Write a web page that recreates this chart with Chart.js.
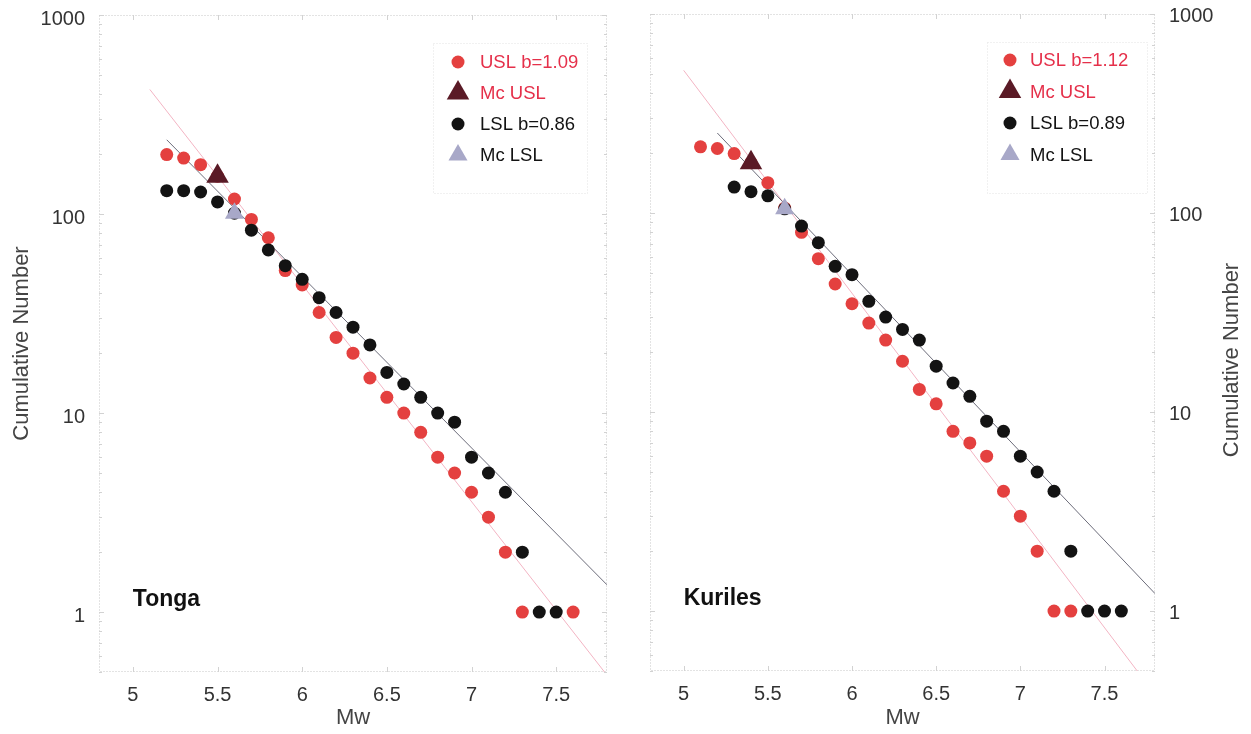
<!DOCTYPE html>
<html>
<head>
<meta charset="utf-8">
<script src="https://cdn.jsdelivr.net/npm/chart.js@4/dist/chart.umd.min.js"></script>
<style>
  html, body { margin: 0; padding: 0; background: #ffffff; }
  #wrap { position: relative; width: 1251px; height: 734px; overflow: hidden; }
  canvas { position: absolute; top: 0; }
  #tonga { left: 0; }
  #kuriles { left: 625px; }
</style>
</head>
<body>
<div id="wrap">
  <canvas id="tonga" width="625" height="734"></canvas>
  <canvas id="kuriles" width="626" height="734"></canvas>
</div>
<script>
// ---- Tonga: cumulative number of events vs. magnitude ----
const tongaUslMw = [5.2, 5.3, 5.4, 5.5, 5.6, 5.7, 5.8, 5.9, 6.0, 6.1, 6.2, 6.3, 6.4, 6.5, 6.6, 6.7, 6.8, 6.9, 7.0, 7.1, 7.2, 7.3, 7.6];
const tongaUslN  = [199, 191, 177, 155, 119, 94, 76, 52, 44, 32, 24, 20, 15, 12, 10, 8, 6, 5, 4, 3, 2, 1, 1];
const tongaLslMw = [5.2, 5.3, 5.4, 5.5, 5.6, 5.7, 5.8, 5.9, 6.0, 6.1, 6.2, 6.3, 6.4, 6.5, 6.6, 6.7, 6.8, 6.9, 7.0, 7.1, 7.2, 7.3, 7.4, 7.5];
const tongaLslN  = [131, 131, 129, 115, 101, 83, 66, 55, 47, 38, 32, 27, 22, 16, 14, 12, 10, 9, 6, 5, 4, 2, 1, 1];
const tongaMc    = [5.5, 5.6];          // completeness magnitude: USL, LSL
const tongaB     = [1.09, 0.86];        // Gutenberg-Richter b-values: USL, LSL
const tongaA     = [8.185, 6.845];      // a-values of the fits: USL, LSL
const tongaFitMw = [[5.1, 7.79], [5.2, 7.8]];

// ---- Kuriles ----
const kurilesUslMw = [5.1, 5.2, 5.3, 5.4, 5.5, 5.6, 5.7, 5.8, 5.9, 6.0, 6.1, 6.2, 6.3, 6.4, 6.5, 6.6, 6.7, 6.8, 6.9, 7.0, 7.1, 7.2, 7.3];
const kurilesUslN  = [215, 211, 199, 179, 142, 106, 80, 59, 44, 35, 28, 23, 18, 13, 11, 8, 7, 6, 4, 3, 2, 1, 1];
const kurilesLslMw = [5.3, 5.4, 5.5, 5.6, 5.7, 5.8, 5.9, 6.0, 6.1, 6.2, 6.3, 6.4, 6.5, 6.6, 6.7, 6.8, 6.9, 7.0, 7.1, 7.2, 7.3, 7.4, 7.5, 7.6];
const kurilesLslN  = [135, 128, 122, 105, 86, 71, 54, 49, 36, 30, 26, 23, 17, 14, 12, 9, 8, 6, 5, 4, 2, 1, 1, 1];
const kurilesMc    = [5.4, 5.6];
const kurilesB     = [1.12, 0.89];
const kurilesA     = [8.317, 7.03];
const kurilesFitMw = [[5.0, 7.7], [5.2, 7.8]];

// ---- axes ----
const mwTicks = [5, 5.5, 6, 6.5, 7, 7.5];
const countTicks = [1, 10, 100, 1000];
const mwRange = [4.8, 7.8];
const countRange = [0.5, 1000];

const FONT = '"Liberation Sans", Arial, Helvetica, sans-serif';
const RED = '#e4403f';
const RED_TEXT = '#e5304a';
const BLACK = '#131313';
const MC_USL_COLOR = '#5a1a26';
const MC_LSL_COLOR = '#a8a8c8';
const USL_LINE = '#f3b4c3';
const LSL_LINE = '#6c6c7a';

function points(mw, n) { return mw.map((m, i) => ({ x: m, y: n[i] })); }
function countAt(mw, n, m) { return n[mw.indexOf(m)]; }
function fitLine(a, b, range) { return range.map(m => ({ x: m, y: Math.pow(10, a - b * m) })); }

// keep the plot area exactly where the layout padding puts it
function noOverflow(s) { s.paddingTop = 0; s.paddingBottom = 0; s.paddingLeft = 0; s.paddingRight = 0; }

// dotted frame, faint border ticks, legend box, region tag and a side title
const panelDecor = {
  id: 'panelDecor',
  beforeDatasetsDraw(chart, args, o) {
    const ctx = chart.ctx;
    const { left, top, right, bottom } = chart.chartArea;
    const xs = chart.scales.x, ys = chart.scales.y;
    ctx.save();
    ctx.strokeStyle = '#c6c6c6';
    ctx.lineWidth = 1;
    ctx.setLineDash([1, 2]);
    ctx.strokeRect(left + 0.5, top + 0.5, right - left - 1, bottom - top - 1);
    ctx.setLineDash([]);
    ctx.strokeStyle = '#d2d2d2';
    ctx.beginPath();
    for (let d = 0.1; d <= 1000; d *= 10) {
      for (let k = 1; k <= 9; k++) {
        const v = d * k;
        if (v < countRange[0] - 1e-9 || v > countRange[1] + 1e-9) continue;
        const y = Math.round(ys.getPixelForValue(v)) + 0.5;
        const len = k === 1 ? 5 : 3;
        ctx.moveTo(left, y); ctx.lineTo(left + len, y);
        ctx.moveTo(right, y); ctx.lineTo(right - len, y);
      }
    }
    for (const v of mwTicks) {
      const x = Math.round(xs.getPixelForValue(v)) + 0.5;
      ctx.moveTo(x, top); ctx.lineTo(x, top + 5);
      ctx.moveTo(x, bottom); ctx.lineTo(x, bottom - 5);
    }
    ctx.stroke();
    ctx.restore();
  },
  afterDatasetsDraw(chart, args, o) {
    const ctx = chart.ctx;
    const xs = chart.scales.x, ys = chart.scales.y;
    ctx.save();
    // legend
    const L = o.legend;
    ctx.strokeStyle = '#e2e2e2';
    ctx.setLineDash([1, 2]);
    ctx.strokeRect(L.x + 0.5, L.y + 0.5, L.w, L.h);
    ctx.setLineDash([]);
    ctx.font = `18.5px ${FONT}`;
    ctx.textBaseline = 'middle';
    ctx.textAlign = 'left';
    L.items.forEach((it, i) => {
      const y = L.y + L.firstRow + i * L.rowGap;
      ctx.fillStyle = it.markerColor;
      Chart.helpers.drawPoint(ctx, { pointStyle: it.marker, radius: it.radius, rotation: 0, borderWidth: 0 }, L.markerX, y);
      ctx.fillStyle = it.textColor;
      ctx.fillText(it.label, L.textX, y + 1);
    });
    // region name
    ctx.font = `bold 23px ${FONT}`;
    ctx.fillStyle = '#111111';
    ctx.fillText(o.tag.text, xs.getPixelForValue(o.tag.mw), ys.getPixelForValue(o.tag.n));
    // title on the right-hand axis, reading upwards
    if (o.sideTitle) {
      ctx.translate(o.sideTitle.x, o.sideTitle.y);
      ctx.rotate(-Math.PI / 2);
      ctx.textAlign = 'center';
      ctx.font = `22px ${FONT}`;
      ctx.fillStyle = '#444444';
      ctx.fillText(o.sideTitle.text, 0, 0);
    }
    ctx.restore();
  }
};

function legendItems(bUsl, bLsl) {
  return [
    { label: 'USL b=' + bUsl.toFixed(2), textColor: RED_TEXT, marker: 'circle', markerColor: RED, radius: 6.5 },
    { label: 'Mc USL', textColor: RED_TEXT, marker: 'triangle', markerColor: MC_USL_COLOR, radius: 13 },
    { label: 'LSL b=' + bLsl.toFixed(2), textColor: BLACK, marker: 'circle', markerColor: BLACK, radius: 6.5 },
    { label: 'Mc LSL', textColor: BLACK, marker: 'triangle', markerColor: MC_LSL_COLOR, radius: 11 }
  ];
}

function buildPanel(canvas, p) {
  const datasets = [
    { type: 'scatter', data: [{ x: p.mc[0], y: countAt(p.uslMw, p.uslN, p.mc[0]) }],
      pointStyle: 'triangle', pointRadius: 13, backgroundColor: MC_USL_COLOR, borderWidth: 0 },
    { type: 'scatter', data: [{ x: p.mc[1], y: countAt(p.lslMw, p.lslN, p.mc[1]) }],
      pointStyle: 'triangle', pointRadius: 11, backgroundColor: MC_LSL_COLOR, borderWidth: 0 },
    { type: 'scatter', data: points(p.lslMw, p.lslN), pointRadius: 6.5, backgroundColor: BLACK, borderWidth: 0 },
    { type: 'scatter', data: points(p.uslMw, p.uslN), pointRadius: 6.5, backgroundColor: RED, borderWidth: 0 },
    { type: 'line', data: fitLine(p.a[1], p.b[1], p.fitMw[1]), borderColor: LSL_LINE, borderWidth: 1, pointRadius: 0, fill: false },
    { type: 'line', data: fitLine(p.a[0], p.b[0], p.fitMw[0]), borderColor: USL_LINE, borderWidth: 1, pointRadius: 0, fill: false }
  ];
  return new Chart(canvas, {
    type: 'scatter',
    data: { datasets },
    plugins: [panelDecor],
    options: {
      responsive: false,
      animation: false,
      devicePixelRatio: 1,
      events: [],
      layout: { padding: p.padding },
      plugins: {
        legend: { display: false },
        tooltip: { enabled: false },
        panelDecor: { legend: p.legend, tag: p.tag, sideTitle: p.sideTitle }
      },
      scales: {
        x: {
          type: 'linear', position: 'bottom', min: mwRange[0], max: mwRange[1],
          grid: { display: false, drawTicks: false }, border: { display: false },
          afterBuildTicks: s => { s.ticks = mwTicks.map(v => ({ value: v })); },
          afterFit: s => { s.height = p.xAxisHeight; noOverflow(s); },
          ticks: { autoSkip: false, maxRotation: 0, padding: 11, color: '#333333',
                   font: { family: FONT, size: 20 }, callback: v => String(v) },
          title: { display: true, text: 'Mw', color: '#444444',
                   font: { family: FONT, size: 22 }, padding: { top: 0, bottom: 3 } }
        },
        y: {
          type: 'logarithmic', position: p.yPosition, min: countRange[0], max: countRange[1],
          grid: { display: false, drawTicks: false }, border: { display: false },
          afterBuildTicks: s => { s.ticks = countTicks.map(v => ({ value: v })); },
          afterFit: s => { s.width = p.yAxisWidth; noOverflow(s); },
          ticks: { autoSkip: false, padding: 14, color: '#333333', labelOffset: p.labelOffset,
                   font: { family: FONT, size: 20 }, callback: v => String(v) },
          title: { display: p.yPosition === 'left', text: 'Cumulative Number', color: '#444444',
                   font: { family: FONT, size: 22 }, padding: { top: 9, bottom: 0 } }
        }
      }
    }
  });
}

buildPanel(document.getElementById('tonga'), {
  uslMw: tongaUslMw, uslN: tongaUslN, lslMw: tongaLslMw, lslN: tongaLslN,
  mc: tongaMc, b: tongaB, a: tongaA, fitMw: tongaFitMw,
  padding: { left: 0, top: 15, right: 18, bottom: 0 },
  xAxisHeight: 62, yAxisWidth: 99, yPosition: 'left', labelOffset: 4,
  legend: { x: 433, y: 43, w: 154, h: 150, markerX: 458, textX: 480, firstRow: 19, rowGap: 31,
            items: legendItems(tongaB[0], tongaB[1]) },
  tag: { text: 'Tonga', mw: 5.0, n: 1.16 },
  sideTitle: null
});

buildPanel(document.getElementById('kuriles'), {
  uslMw: kurilesUslMw, uslN: kurilesUslN, lslMw: kurilesLslMw, lslN: kurilesLslN,
  mc: kurilesMc, b: kurilesB, a: kurilesA, fitMw: kurilesFitMw,
  padding: { left: 25, top: 14, right: 0, bottom: 0 },
  xAxisHeight: 63, yAxisWidth: 96, yPosition: 'right', labelOffset: 2,
  legend: { x: 362, y: 42, w: 160, h: 151, markerX: 385, textX: 405, firstRow: 18, rowGap: 31.5,
            items: legendItems(kurilesB[0], kurilesB[1]) },
  tag: { text: 'Kuriles', mw: 5.0, n: 1.15 },
  sideTitle: { text: 'Cumulative Number', x: 607, y: 360 }
});
</script>
</body>
</html>
